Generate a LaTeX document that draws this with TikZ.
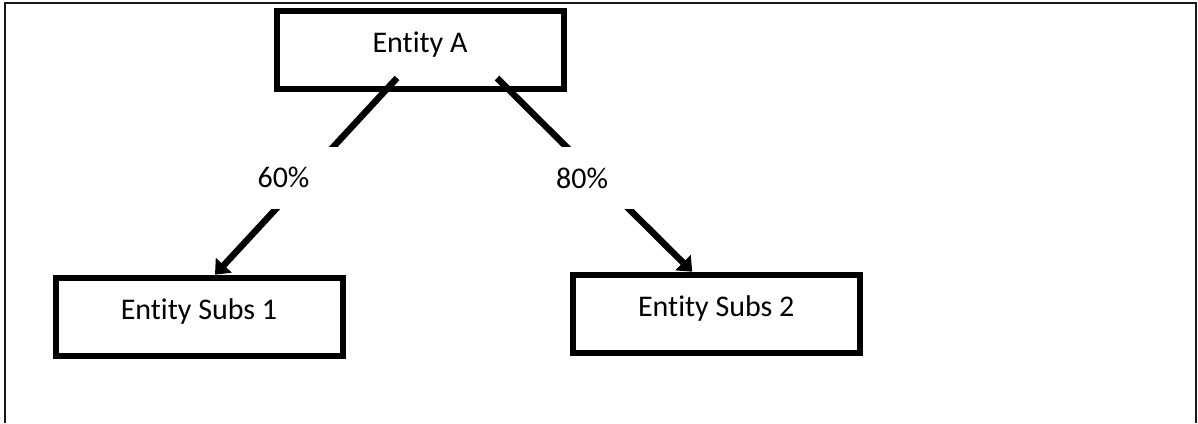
\documentclass[tikz,border=0pt]{standalone}
\usepackage{fontspec}
\setmainfont{Carlito}[Ligatures=NoCommon]
\usetikzlibrary{arrows.meta, positioning, calc}

\tikzset{
    entbox/.style={draw, line width=6pt, rectangle, minimum width=287pt, minimum height=78pt, inner sep=0pt},
    enttext/.style={anchor=base, inner sep=0pt, font=\fontsize{30}{36}\selectfont},
    share/.style={fill=white, minimum width=120pt, minimum height=62pt, inner sep=0pt, font=\fontsize{30}{36}\selectfont},
    link/.style={line width=6.5pt, -{Triangle[length=13pt,width=21pt]}}
}

\begin{document}
\begin{tikzpicture}[x=1pt, y=-1pt]
    \useasboundingbox (0,0) rectangle (1198,423);
    % outer frame, open at the bottom
    \draw[line width=2pt, black!90] (5,423) -- (5,3) -- (1196,3) -- (1196,423);

    % the three entities
    \node[entbox] (entA) at (420,49.5) {};
    \node[entbox] (sub1) at (199,316.75) {};
    \node[entbox] (sub2) at (716.25,313.75) {};
    \node[enttext] (tA) at ([yshift=-44.5pt]entA.north) {Entity A};
    \node[enttext] (t1) at ([yshift=-44.5pt]sub1.north) {Entity Subs 1};
    \node[enttext] (t2) at ([yshift=-44.5pt]sub2.north) {Entity Subs 2};

    % holdings
    \coordinate (fromA1) at (397,78);
    \coordinate (fromA2) at (497,78);
    \draw[link] (fromA1) -- ([xshift=16pt]sub1.north);
    \draw[link] (fromA2) -- ([xshift=-24pt]sub2.north);
    \node[share] (p1) at (283.5,177.5) {60\%};
    \node[share] (p2) at (582,178) {80\%};
\end{tikzpicture}
\end{document}
